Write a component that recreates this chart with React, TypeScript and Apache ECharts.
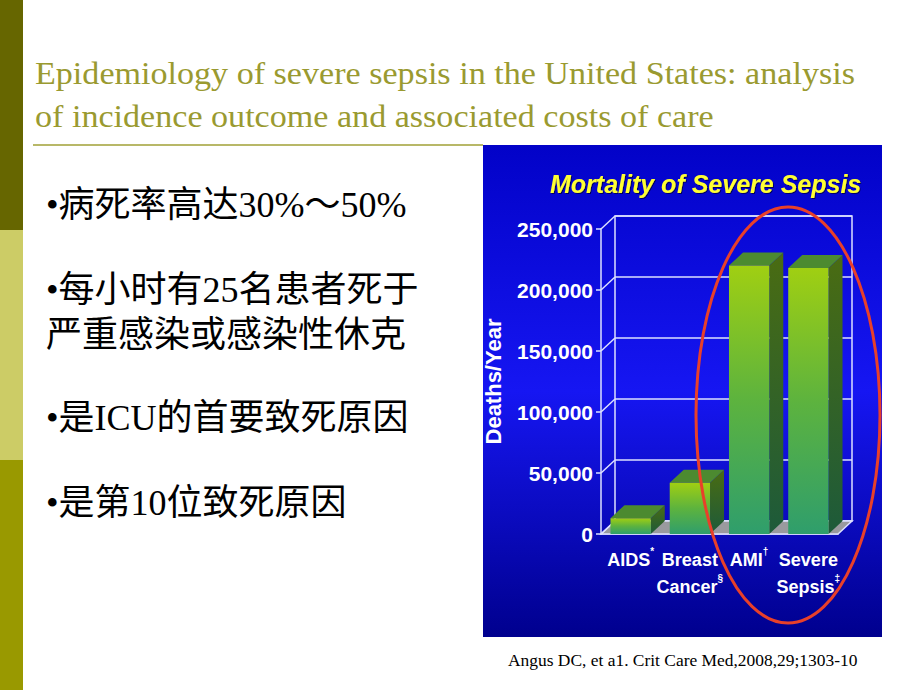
import React, { useEffect, useRef } from "react";
import * as echarts from "echarts";

const titleLines = [
  "Epidemiology of severe sepsis in the United States: analysis",
  "of incidence outcome and associated costs of care",
];
const bullets = [
  "•病死率高达30%～50%",
  "•每小时有25名患者死于",
  "严重感染或感染性休克",
  "•是ICU的首要致死原因",
  "•是第10位致死原因",
];
const bulletY = [205, 290, 335, 418, 503];
const chartTitle = "Mortality of Severe Sepsis";
const citation = "Angus DC, et a1. Crit Care Med,2008,29;1303-10";
const categories = ["AIDS", "Breast\nCancer", "AMI", "Severe\nSepsis"];
const markers = ["*", "§", "†", "‡"];
const deaths = [13000, 42000, 220000, 218000];
const yTicks = [0, 50000, 100000, 150000, 200000, 250000];
const yMin = 0;
const yMax = 250000;
const yStep = 50000;
const yName = "Deaths/Year";

const DX = 14;
const DY = 13;
const LINE = "#dde0ff";

export default function App() {
  const ref = useRef<HTMLDivElement>(null);
  useEffect(() => {
    if (!ref.current) return;
    const chart = echarts.init(ref.current, undefined, { renderer: "svg" });
    const serif = "'Liberation Serif', 'DejaVu Serif', 'Noto Sans CJK SC', serif";
    const sans = "'Liberation Sans', Arial, sans-serif";

    const barRender = (params: any, api: any) => {
      const i = api.value(0);
      const v = api.value(1);
      const top = api.coord([i, v]);
      const base = api.coord([i, 0]);
      const bw = api.size([1, 0])[0] * 0.68;
      const x0 = top[0] - bw / 2;
      const x1 = top[0] + bw / 2;
      const yT = top[1];
      const yB = base[1];
      return {
        type: "group",
        children: [
          {
            type: "polygon",
            shape: { points: [[x1, yB], [x1 + DX, yB - DY], [x1 + DX, yT - DY], [x1, yT]] },
            style: {
              fill: new echarts.graphic.LinearGradient(0, 0, 0, 1, [
                { offset: 0, color: "#4a6c12" },
                { offset: 1, color: "#1d5a3a" },
              ]),
            },
          },
          {
            type: "polygon",
            shape: { points: [[x0, yT], [x1, yT], [x1 + DX, yT - DY], [x0 + DX, yT - DY]] },
            style: { fill: "#4c8a30" },
          },
          {
            type: "rect",
            shape: { x: x0, y: yT, width: bw, height: yB - yT },
            style: {
              fill: new echarts.graphic.LinearGradient(0, 0, 0, 1, [
                { offset: 0, color: "#a0cf12" },
                { offset: 0.5, color: "#5db33e" },
                { offset: 1, color: "#2f9e6c" },
              ]),
            },
          },
        ],
      };
    };

    const floorRender = (params: any, api: any) => {
      const cs = params.coordSys;
      const yb = cs.y + cs.height;
      return {
        type: "polygon",
        shape: {
          points: [
            [cs.x, yb],
            [cs.x + cs.width, yb],
            [cs.x + cs.width + DX, yb - DY],
            [cs.x + DX, yb - DY],
          ],
        },
        style: { fill: "#9a9a9e", stroke: LINE, lineWidth: 1.5 },
      };
    };

    const diagRender = (params: any, api: any) => {
      const cs = params.coordSys;
      const y = api.coord([0, api.value(1)])[1];
      return {
        type: "line",
        shape: { x1: cs.x, y1: y, x2: cs.x + DX, y2: y - DY },
        style: { stroke: LINE, lineWidth: 1.5 },
      };
    };

    const option: any = {
      animation: false,
      backgroundColor: "#ffffff",
      title: {
        text: chartTitle,
        left: 545,
        top: 166,
        textStyle: {
          color: "#ffff33",
          fontSize: 25,
          fontWeight: "bold",
          fontStyle: "italic",
          fontFamily: sans,
          textShadowColor: "rgba(0,0,60,0.8)",
          textShadowOffsetX: 1,
          textShadowOffsetY: 1,
          textShadowBlur: 1,
        },
      },
      grid: [
        { left: 601, top: 229, width: 237, height: 305, containLabel: false },
        {
          left: 615,
          top: 216,
          width: 237,
          height: 305,
          show: true,
          borderColor: LINE,
          borderWidth: 1.5,
          backgroundColor: "transparent",
        },
      ],
      xAxis: [
        {
          type: "category",
          gridIndex: 0,
          data: categories,
          axisLine: { show: true, lineStyle: { color: LINE, width: 1.5 } },
          axisTick: { show: false },
          axisLabel: {
            interval: 0,
            color: "#ffffff",
            fontSize: 18,
            fontWeight: "bold",
            fontFamily: sans,
            margin: 12,
            lineHeight: 27,
            formatter: (val: string, idx: number) => `${val}{sup|${markers[idx]}}`,
            rich: {
              sup: {
                color: "#ffffff",
                fontSize: 10,
                fontWeight: "bold",
                fontFamily: sans,
                verticalAlign: "top",
                padding: [0, 0, 6, 0],
              },
            },
          },
        },
        {
          type: "category",
          gridIndex: 1,
          data: categories,
          show: false,
        },
      ],
      yAxis: [
        {
          type: "value",
          gridIndex: 0,
          min: yMin,
          max: yMax,
          interval: yStep,
          name: yName,
          nameLocation: "middle",
          nameRotate: 90,
          nameGap: 97,
          nameTextStyle: { color: "#ffffff", fontSize: 22, fontWeight: "bold", fontFamily: sans },
          axisLine: { show: true, lineStyle: { color: LINE, width: 1.5 } },
          axisTick: { show: true, length: 5, lineStyle: { color: LINE, width: 1.5 } },
          splitLine: { show: false },
          axisLabel: {
            color: "#ffffff",
            fontSize: 21,
            fontWeight: "bold",
            fontFamily: sans,
            margin: 8,
            formatter: (v: number) => v.toLocaleString("en-US"),
          },
        },
        {
          type: "value",
          gridIndex: 1,
          min: yMin,
          max: yMax,
          interval: yStep,
          axisLine: { show: false },
          axisTick: { show: false },
          axisLabel: { show: false },
          splitLine: { show: true, lineStyle: { color: LINE, width: 1.5 } },
        },
      ],
      series: [
        {
          type: "custom",
          xAxisIndex: 0,
          yAxisIndex: 0,
          z: 2,
          renderItem: floorRender,
          data: [[0, 0]],
          silent: true,
        },
        {
          type: "custom",
          xAxisIndex: 0,
          yAxisIndex: 0,
          z: 2,
          renderItem: diagRender,
          data: yTicks.map((v) => [0, v]),
          silent: true,
        },
        {
          type: "custom",
          xAxisIndex: 0,
          yAxisIndex: 0,
          z: 3,
          renderItem: barRender,
          data: deaths.map((v, i) => [i, v]),
          encode: { x: 0, y: 1 },
        },
      ],
      graphic: {
        elements: [
          { type: "rect", z: -100, shape: { x: 0, y: 0, width: 23, height: 230 }, style: { fill: "#666600" } },
          { type: "rect", z: -100, shape: { x: 0, y: 230, width: 23, height: 230 }, style: { fill: "#cccc66" } },
          { type: "rect", z: -100, shape: { x: 0, y: 460, width: 23, height: 230 }, style: { fill: "#999900" } },
          {
            type: "rect",
            z: -100,
            shape: { x: 483, y: 145, width: 399, height: 492 },
            style: {
              fill: new echarts.graphic.LinearGradient(0, 0, 0, 1, [
                { offset: 0, color: "#0202c8" },
                { offset: 0.5, color: "#1616f2" },
                { offset: 1, color: "#00008e" },
              ]),
            },
          },
          {
            type: "line",
            z: -90,
            shape: { x1: 33, y1: 145, x2: 483, y2: 145 },
            style: { stroke: "#b8b868", lineWidth: 2 },
          },
          ...titleLines.map((t, i) => ({
            type: "text",
            z: 10,
            x: 35,
            y: 74 + i * 43,
            scaleX: 1.1,
            style: {
              text: t,
              fill: "#9a9a30",
              fontSize: 31,
              fontFamily: serif,
              textVerticalAlign: "middle",
            },
          })),
          ...bullets.map((t, i) => ({
            type: "text",
            z: 10,
            x: 46,
            y: bulletY[i],
            style: {
              text: t,
              fill: "#000000",
              fontSize: 36,
              fontFamily: serif,
              textVerticalAlign: "middle",
            },
          })),
          {
            type: "text",
            z: 10,
            x: 508,
            y: 661,
            scaleX: 1.09,
            style: {
              text: citation,
              fill: "#000000",
              fontSize: 16,
              fontFamily: serif,
              textVerticalAlign: "middle",
            },
          },
          {
            type: "ellipse",
            z: 100,
            shape: { cx: 788, cy: 415, rx: 92, ry: 208 },
            style: { fill: "none", stroke: "#e8402a", lineWidth: 3 },
          },
        ],
      },
    };
    chart.setOption(option);
    return () => chart.dispose();
  }, []);
  return (
    <div
      ref={ref}
      style={{ position: "fixed", left: 0, top: 0, width: 920, height: 690 }}
    />
  );
}
